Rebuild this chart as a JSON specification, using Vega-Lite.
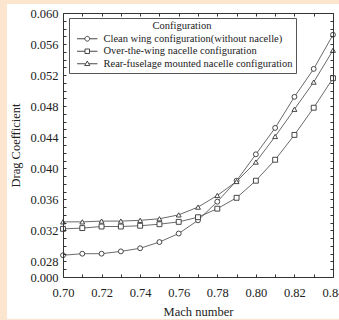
{
  "$schema": "https://vega.github.io/schema/vega-lite/v6.json",
  "autosize": {"type": "none"},
  "padding": {"left": 63, "top": 13, "right": 6, "bottom": 43},
  "width": 270,
  "height": 264,
  "background": "#fbe5cf",
  "config": {
    "view": {"stroke": "#333", "strokeWidth": 1},
    "axis": {"labelFont": "Liberation Serif", "titleFont": "Liberation Serif", "labelColor": "#222", "titleColor": "#222", "titleFontWeight": "normal", "grid": false, "domainColor": "#333", "tickColor": "#333"}
  },
  "data": {"values": [
    {"mach": 0.70, "cd": 0.0288, "config": "Clean wing configuration(without nacelle)"},
    {"mach": 0.71, "cd": 0.0290, "config": "Clean wing configuration(without nacelle)"},
    {"mach": 0.72, "cd": 0.0290, "config": "Clean wing configuration(without nacelle)"},
    {"mach": 0.73, "cd": 0.0293, "config": "Clean wing configuration(without nacelle)"},
    {"mach": 0.74, "cd": 0.0297, "config": "Clean wing configuration(without nacelle)"},
    {"mach": 0.75, "cd": 0.0305, "config": "Clean wing configuration(without nacelle)"},
    {"mach": 0.76, "cd": 0.0316, "config": "Clean wing configuration(without nacelle)"},
    {"mach": 0.77, "cd": 0.0333, "config": "Clean wing configuration(without nacelle)"},
    {"mach": 0.78, "cd": 0.0357, "config": "Clean wing configuration(without nacelle)"},
    {"mach": 0.79, "cd": 0.0384, "config": "Clean wing configuration(without nacelle)"},
    {"mach": 0.80, "cd": 0.0418, "config": "Clean wing configuration(without nacelle)"},
    {"mach": 0.81, "cd": 0.0452, "config": "Clean wing configuration(without nacelle)"},
    {"mach": 0.82, "cd": 0.0492, "config": "Clean wing configuration(without nacelle)"},
    {"mach": 0.83, "cd": 0.0528, "config": "Clean wing configuration(without nacelle)"},
    {"mach": 0.84, "cd": 0.0572, "config": "Clean wing configuration(without nacelle)"},
    {"mach": 0.70, "cd": 0.0322, "config": "Over-the-wing nacelle configuration"},
    {"mach": 0.71, "cd": 0.0323, "config": "Over-the-wing nacelle configuration"},
    {"mach": 0.72, "cd": 0.0325, "config": "Over-the-wing nacelle configuration"},
    {"mach": 0.73, "cd": 0.0325, "config": "Over-the-wing nacelle configuration"},
    {"mach": 0.74, "cd": 0.0326, "config": "Over-the-wing nacelle configuration"},
    {"mach": 0.75, "cd": 0.0328, "config": "Over-the-wing nacelle configuration"},
    {"mach": 0.76, "cd": 0.0331, "config": "Over-the-wing nacelle configuration"},
    {"mach": 0.77, "cd": 0.0337, "config": "Over-the-wing nacelle configuration"},
    {"mach": 0.78, "cd": 0.0348, "config": "Over-the-wing nacelle configuration"},
    {"mach": 0.79, "cd": 0.0362, "config": "Over-the-wing nacelle configuration"},
    {"mach": 0.80, "cd": 0.0384, "config": "Over-the-wing nacelle configuration"},
    {"mach": 0.81, "cd": 0.0411, "config": "Over-the-wing nacelle configuration"},
    {"mach": 0.82, "cd": 0.0443, "config": "Over-the-wing nacelle configuration"},
    {"mach": 0.83, "cd": 0.0478, "config": "Over-the-wing nacelle configuration"},
    {"mach": 0.84, "cd": 0.0516, "config": "Over-the-wing nacelle configuration"},
    {"mach": 0.70, "cd": 0.0331, "config": "Rear-fuselage mounted nacelle configuration"},
    {"mach": 0.71, "cd": 0.0331, "config": "Rear-fuselage mounted nacelle configuration"},
    {"mach": 0.72, "cd": 0.0332, "config": "Rear-fuselage mounted nacelle configuration"},
    {"mach": 0.73, "cd": 0.0332, "config": "Rear-fuselage mounted nacelle configuration"},
    {"mach": 0.74, "cd": 0.0333, "config": "Rear-fuselage mounted nacelle configuration"},
    {"mach": 0.75, "cd": 0.0335, "config": "Rear-fuselage mounted nacelle configuration"},
    {"mach": 0.76, "cd": 0.0340, "config": "Rear-fuselage mounted nacelle configuration"},
    {"mach": 0.77, "cd": 0.0350, "config": "Rear-fuselage mounted nacelle configuration"},
    {"mach": 0.78, "cd": 0.0365, "config": "Rear-fuselage mounted nacelle configuration"},
    {"mach": 0.79, "cd": 0.0383, "config": "Rear-fuselage mounted nacelle configuration"},
    {"mach": 0.80, "cd": 0.0408, "config": "Rear-fuselage mounted nacelle configuration"},
    {"mach": 0.81, "cd": 0.0441, "config": "Rear-fuselage mounted nacelle configuration"},
    {"mach": 0.82, "cd": 0.0476, "config": "Rear-fuselage mounted nacelle configuration"},
    {"mach": 0.83, "cd": 0.0511, "config": "Rear-fuselage mounted nacelle configuration"},
    {"mach": 0.84, "cd": 0.0552, "config": "Rear-fuselage mounted nacelle configuration"}
  ]},
  "resolve": {"axis": {"x": "independent", "y": "independent"}, "scale": {"shape": "independent"}},
  "layer": [
    {
      "mark": {"type": "rect", "fill": "white", "clip": false, "zindex": 0},
      "encoding": {
        "x": {"datum": 0.6713, "type": "quantitative", "scale": {"domain": [0.70, 0.84], "nice": false, "zero": false}, "axis": null},
        "x2": {"datum": 0.847},
        "y": {"datum": 0.0207, "type": "quantitative", "scale": {"domain": [0.026, 0.060], "nice": false, "zero": false}, "axis": null},
        "y2": {"datum": 0.0611}
      }
    },
    {
      "mark": {"type": "line", "color": "#444", "strokeWidth": 0.8, "zindex": 2},
      "encoding": {
        "x": {"field": "mach", "type": "quantitative", "scale": {"domain": [0.70, 0.84], "nice": false, "zero": false},
          "axis": {"orient": "bottom", "zindex": 1, "title": "Mach number", "values": [0.70, 0.71, 0.72, 0.73, 0.74, 0.75, 0.76, 0.77, 0.78, 0.79, 0.80, 0.81, 0.82, 0.83, 0.84],
            "labelExpr": "round(datum.value*100) % 2 == 0 ? format(datum.value, '.2f') : ''", "labelOverlap": false, "labelFlush": false,
            "tickSize": -3, "labelPadding": 12, "labelFontSize": 12.5, "titleFontSize": 12.5, "titlePadding": 7}},
        "y": {"field": "cd", "type": "quantitative", "scale": {"domain": [0.026, 0.060], "nice": false, "zero": false},
          "axis": {"orient": "left", "zindex": 1, "title": "Drag Coefficient", "values": [0.026, 0.027, 0.028, 0.029, 0.030, 0.031, 0.032, 0.033, 0.034, 0.035, 0.036, 0.037, 0.038, 0.039, 0.040, 0.041, 0.042, 0.043, 0.044, 0.045, 0.046, 0.047, 0.048, 0.049, 0.050, 0.051, 0.052, 0.053, 0.054, 0.055, 0.056, 0.057, 0.058, 0.059, 0.060],
            "labelExpr": "datum.value < 0.0265 ? '0.000' : (round(datum.value*1000) % 4 == 0 ? format(datum.value, '.3f') : '')", "labelOverlap": false, "labelFlush": false,
            "tickSize": -3, "labelPadding": 8, "labelFontSize": 12.5, "titleFontSize": 12.5, "titlePadding": 7}},
        "detail": {"field": "config"}
      }
    },
    {
      "mark": {"type": "point", "filled": true, "fill": "white", "stroke": "#333", "strokeWidth": 0.9, "size": 24, "opacity": 1, "zindex": 3},
      "encoding": {
        "x": {"field": "mach", "type": "quantitative",
          "axis": {"orient": "top", "zindex": 1, "title": null, "labels": false, "values": [0.70, 0.71, 0.72, 0.73, 0.74, 0.75, 0.76, 0.77, 0.78, 0.79, 0.80, 0.81, 0.82, 0.83, 0.84], "tickSize": -3}},
        "y": {"field": "cd", "type": "quantitative",
          "axis": {"orient": "right", "zindex": 1, "title": null, "labels": false, "values": [0.026, 0.027, 0.028, 0.029, 0.030, 0.031, 0.032, 0.033, 0.034, 0.035, 0.036, 0.037, 0.038, 0.039, 0.040, 0.041, 0.042, 0.043, 0.044, 0.045, 0.046, 0.047, 0.048, 0.049, 0.050, 0.051, 0.052, 0.053, 0.054, 0.055, 0.056, 0.057, 0.058, 0.059, 0.060], "tickSize": -3}},
        "shape": {"field": "config", "type": "nominal", "legend": null,
          "scale": {"domain": ["Clean wing configuration(without nacelle)", "Over-the-wing nacelle configuration", "Rear-fuselage mounted nacelle configuration"], "range": ["circle", "square", "triangle-up"]}}
      }
    },
    {
      "mark": {"type": "point", "opacity": 0, "size": 36},
      "encoding": {
        "x": {"field": "mach", "type": "quantitative", "axis": null},
        "y": {"field": "cd", "type": "quantitative", "axis": null},
        "shape": {"field": "config", "type": "nominal",
          "scale": {"domain": ["Clean wing configuration(without nacelle)", "Over-the-wing nacelle configuration", "Rear-fuselage mounted nacelle configuration"],
            "range": ["M-3.4,0H-0.8M0.8,0H3.4M0.8,0A0.8,0.8 0 1,1 -0.8,0A0.8,0.8 0 1,1 0.8,0Z", "M-3.4,0H-0.75M0.75,0H3.4M-0.75,-0.75H0.75V0.75H-0.75Z", "M-3.4,0H-0.6M0.6,0H3.4M0,-0.9L0.85,0.6H-0.85Z"]},
          "legend": {"title": "Configuration", "orient": "none", "legendX": 6, "legendY": 5, "zindex": 4,
            "fillColor": "white", "strokeColor": "#555", "padding": 3,
            "titleFont": "Liberation Serif", "titleFontSize": 10.5, "titleFontWeight": "normal", "titleColor": "#222", "titleAnchor": "middle", "titleAlign": "center", "titlePadding": 2,
            "labelFont": "Liberation Serif", "labelFontSize": 10.5, "labelColor": "#222", "labelLimit": 400,
            "symbolSize": 36, "symbolOpacity": 1, "symbolFillColor": "white", "symbolStrokeColor": "#333", "symbolStrokeWidth": 0.9,
            "symbolOffset": 10, "labelOffset": 11, "rowPadding": 1.5}}
      }
    }
  ]
}
